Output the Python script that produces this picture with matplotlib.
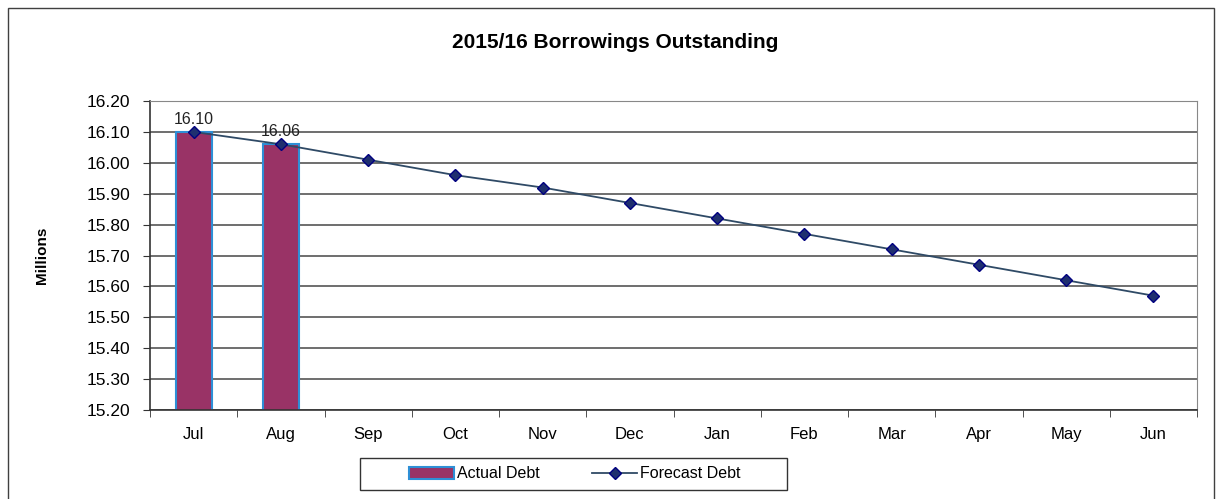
import numpy as np
import matplotlib.pyplot as plt
from matplotlib.patches import Rectangle

months = ["Jul", "Aug", "Sep", "Oct", "Nov", "Dec", "Jan", "Feb", "Mar", "Apr", "May", "Jun"]
actual = [16.10, 16.06]
forecast = [16.10, 16.06, 16.01, 15.96, 15.92, 15.87, 15.82, 15.77, 15.72, 15.67, 15.62, 15.57]
yticks = [15.20, 15.30, 15.40, 15.50, 15.60, 15.70, 15.80, 15.90, 16.00, 16.10, 16.20]

plt.rcParams['font.family'] = ['Liberation Sans', 'DejaVu Sans']

W, H = 1220, 499
fig = plt.figure(figsize=(12.2, 4.99), dpi=100)
# outer chart frame
fig.patches.append(Rectangle((8 / W, -0.01), 1206 / W, 1 - 8 / H + 0.01,
                             transform=fig.transFigure, fill=False,
                             edgecolor='#404040', linewidth=1.0))

ax = fig.add_axes([150 / W, 1 - 410 / H, 1047 / W, 309 / H])
x = np.arange(len(months))

bars = ax.bar(x[:len(actual)], actual, width=0.41, color='#993366', edgecolor='#2E8FD6',
              linewidth=1.5, label='Actual Debt', zorder=2)
line, = ax.plot(x, forecast, color='#2F4A66', linewidth=1.3, marker='D', markersize=6,
                markerfacecolor='#1F2F6F', markeredgecolor='#000080', label='Forecast Debt', zorder=3)

for i, v in enumerate(actual):
    ax.text(x[i], v + 0.017, f"{v:.2f}", ha='center', va='bottom', fontsize=11.5, color='#222222')

ax.set_ylim(15.20, 16.20)
ax.set_xlim(-0.5, len(months) - 0.5)
ax.set_yticks(yticks)
ax.set_yticklabels([f"{t:.2f}" for t in yticks], fontsize=12.5)
ax.set_xticks(x)
ax.set_xticklabels(months, fontsize=12)
ax.set_xticks(np.arange(-0.5, len(months), 1), minor=True)
ax.tick_params(axis='x', which='major', length=0, pad=12)
ax.tick_params(axis='x', which='minor', length=5, direction='out', color='#333333')
ax.tick_params(axis='y', length=5, direction='out', color='#333333', pad=9)
ax.yaxis.grid(True, color='#555555', linewidth=1.2, zorder=0)
ax.set_axisbelow(True)
for s in ['top', 'right']:
    ax.spines[s].set_color('#888888')
for s in ['left', 'bottom']:
    ax.spines[s].set_color('#333333')
    ax.spines[s].set_linewidth(1.2)

ax.set_ylabel("Millions", fontsize=11, fontweight='bold', labelpad=27)
fig.text(615 / W, 1 - 43 / H, "2015/16 Borrowings Outstanding", ha='center', va='center',
         fontsize=15, fontweight='bold')

# legend box drawn separately so its contents sit centered like the original
fig.patches.append(Rectangle((360 / W, 1 - 490 / H), 427 / W, 32 / H,
                             transform=fig.transFigure, fill=False,
                             edgecolor='#333333', linewidth=1.0))
leg = fig.legend([bars, line], ['Actual Debt', 'Forecast Debt'], loc='center',
                 bbox_to_anchor=(575 / W, 1 - 474 / H), ncol=2, frameon=False, fontsize=11.5,
                 handlelength=2.8, columnspacing=3.3, handletextpad=0.2)

fig.savefig("out.png", dpi=100)
